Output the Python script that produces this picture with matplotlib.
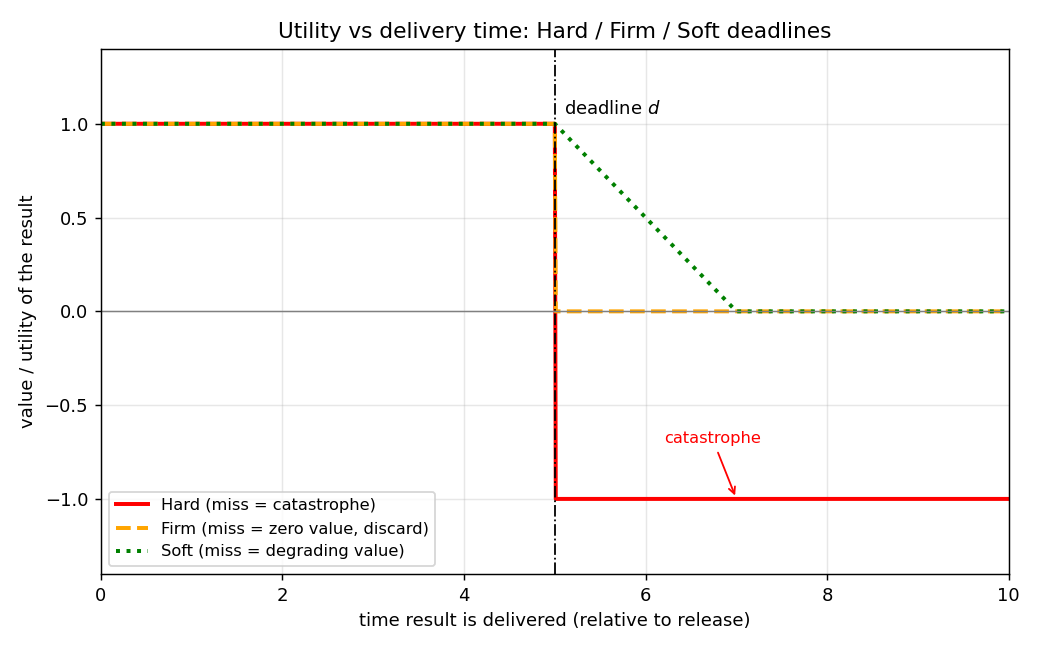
import matplotlib
matplotlib.use("Agg")
import matplotlib.pyplot as plt

# breakpoints of each utility curve (time, value)
deadline = 5.0
hard_t = [0, 5.0, 5.01, 10]
hard_v = [1, 1, -1, -1]
firm_t = [0, 5.0, 5.01, 10]
firm_v = [1, 1, 0, 0]
soft_t = [0, 5.0, 7.0, 10]
soft_v = [1, 1, 0, 0]

fig, ax = plt.subplots(figsize=(8, 5), dpi=130)
ax.plot(hard_t, hard_v, "-", c="red", lw=2.2, label="Hard (miss = catastrophe)")
ax.plot(firm_t, firm_v, "--", c="orange", lw=2.2, label="Firm (miss = zero value, discard)")
ax.plot(soft_t, soft_v, ":", c="green", lw=2.2, label="Soft (miss = degrading value)")
ax.axvline(deadline, c="black", ls="-.", lw=1)
ax.axhline(0, c="grey", lw=0.8)
ax.text(deadline + 0.1, 1.05, "deadline $d$", fontsize=10)
ax.annotate("catastrophe", xy=(7, -1), xytext=(6.2, -0.7), color="red", fontsize=9,
            arrowprops=dict(arrowstyle="->", color="red"))

ax.set_xlim(0, 10)
ax.set_ylim(-1.4, 1.4)
ax.set_xlabel("time result is delivered (relative to release)")
ax.set_ylabel("value / utility of the result")
ax.set_title("Utility vs delivery time: Hard / Firm / Soft deadlines", fontsize=12)
ax.grid(alpha=0.3)
ax.legend(loc="lower left", fontsize=9)
fig.subplots_adjust(left=0.097, right=0.970, top=0.925, bottom=0.117)
fig.savefig("out.png", dpi=130)
